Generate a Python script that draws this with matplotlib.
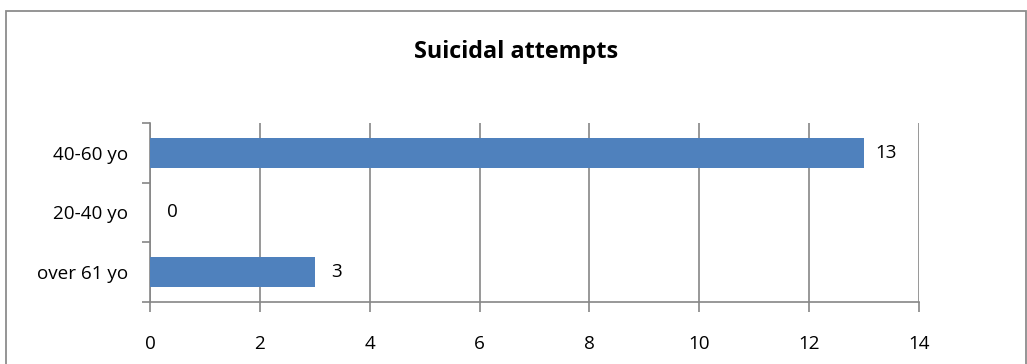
import matplotlib
matplotlib.use("Agg")
import matplotlib.pyplot as plt
from matplotlib.patches import Rectangle
from matplotlib.ticker import FixedLocator

categories = ["over 61 yo", "20-40 yo", "40-60 yo"]
attempts = [3, 0, 13]
x_ticks = [0, 2, 4, 6, 8, 10, 12, 14]

W, H, DPI = 1027, 364, 100
plt.rcParams["font.family"] = ["Open Sans", "DejaVu Sans"]
FS = 13.6

fig = plt.figure(figsize=(W / DPI, H / DPI), dpi=DPI)
fig.patch.set_facecolor("white")

# outer chart frame
fig.patches.append(Rectangle((6 / W, -0.05), (1026 - 6) / W, (H - 11) / H + 0.05,
                             transform=fig.transFigure, fill=False,
                             edgecolor="#8c8c8c", linewidth=1.3))

left, right, top, bottom = 150, 919, 123, 301.5
ax = fig.add_axes([left / W, (H - bottom) / H, (right - left) / W, (bottom - top) / H])

grey = "#868686"
ypos = list(range(len(categories)))
ax.barh(ypos, attempts, height=0.5, color="#4F81BD", zorder=3)

for y, v in zip(ypos, attempts):
    ax.annotate(str(v), (v, y), xytext=(16, 0), textcoords="offset points",
                ha="center", va="center", fontsize=FS, color="black")

ax.set_xlim(0, 14)
ax.set_ylim(-0.5, 2.5)
ax.xaxis.set_major_locator(FixedLocator(x_ticks))
ax.set_xticklabels([str(t) for t in x_ticks], fontsize=FS)
ax.grid(axis="x", color=grey, linewidth=1.2, zorder=0)

ax.set_yticks(ypos)
ax.set_yticklabels(categories, fontsize=FS)
ax.yaxis.set_minor_locator(FixedLocator([-0.5, 0.5, 1.5, 2.5]))
ax.tick_params(axis="y", which="major", length=0, pad=16)
ax.tick_params(axis="y", which="minor", length=6, width=1.2, color=grey)
ax.tick_params(axis="x", length=7, width=1.2, color=grey, pad=17)

for s in ("top", "right"):
    ax.spines[s].set_visible(False)
for s in ("left", "bottom"):
    ax.spines[s].set_color(grey)
    ax.spines[s].set_linewidth(1.2)

fig.text(516 / W, (H - 52) / H, "Suicidal attempts", ha="center", va="center",
         fontsize=16.8, fontweight="bold")

fig.savefig("out.png", dpi=DPI)
